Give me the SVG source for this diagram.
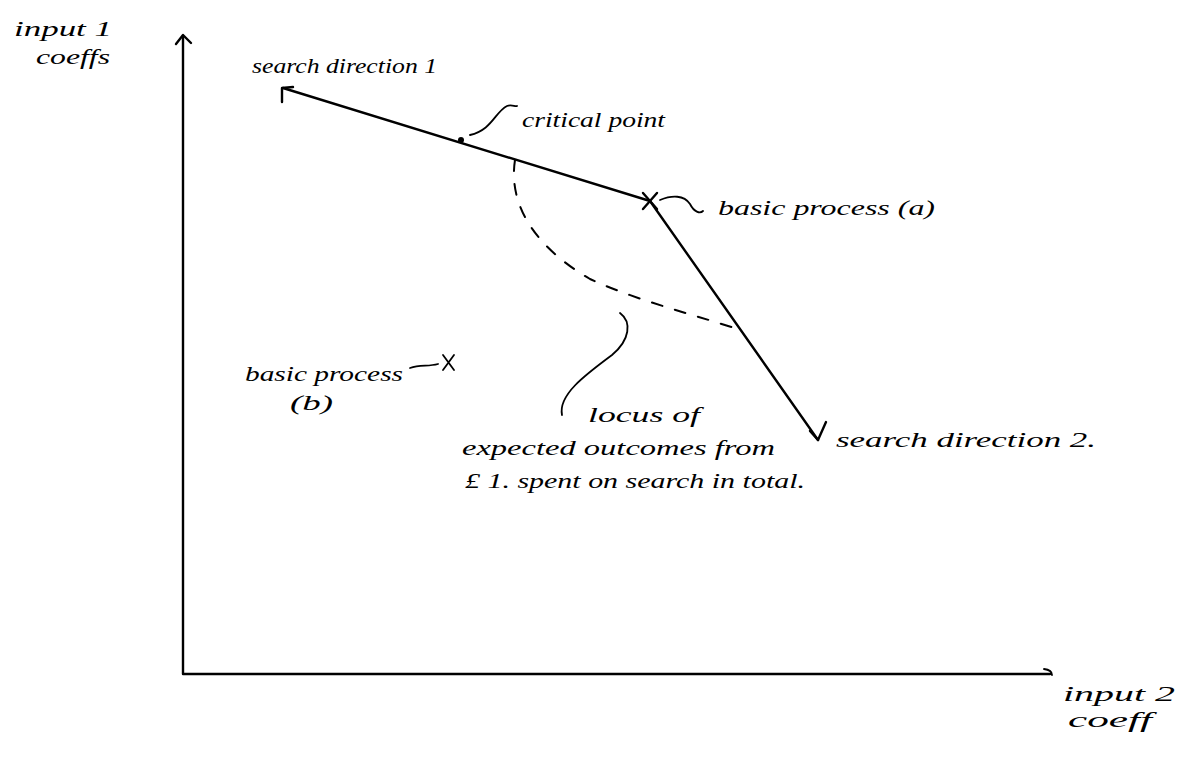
<svg xmlns="http://www.w3.org/2000/svg" width="1180" height="758" viewBox="0 0 1180 758">
  <style>
    .ink { fill: none; stroke: #000; stroke-width: 2.4; stroke-linecap: round; stroke-linejoin: round; }
    .thin { fill: none; stroke: #000; stroke-width: 1.8; stroke-linecap: round; stroke-linejoin: round; }
    .dash { fill: none; stroke: #000; stroke-width: 2; stroke-dasharray: 11 13; stroke-linecap: round; }
    .hand { font-family: "Liberation Serif", "DejaVu Serif", serif; font-style: italic; font-size: 22px; fill: #000; }
  </style>
  <rect width="1180" height="758" fill="#fff"/>

  <!-- axes -->
  <g id="axes">
    <path class="ink" d="M183 36 L183 674 L1050 674"/>
    <path class="ink" d="M176 44 L183 35 L191 43"/>
    <path class="thin" d="M1044 669 Q1052 670 1052 675"/>
  </g>

  <!-- axis titles -->
  <g id="y-title">
    <text class="hand" x="14" y="36" textLength="98" lengthAdjust="spacingAndGlyphs">input 1</text>
    <text class="hand" x="36" y="64" textLength="74" lengthAdjust="spacingAndGlyphs">coeffs</text>
  </g>
  <g id="x-title">
    <text class="hand" x="1063" y="701" textLength="112" lengthAdjust="spacingAndGlyphs">input 2</text>
    <text class="hand" x="1068" y="727" textLength="84" lengthAdjust="spacingAndGlyphs">coeff</text>
  </g>

  <!-- connectors: search directions, locus and leaders -->
  <g id="connectors">
    <path class="ink" d="M283 88 L650 201"/>
    <path class="ink" d="M282 88 L282 102 M282 88 L293 87"/>
    <path class="ink" d="M650 201 L818 440"/>
    <path class="ink" d="M810 431 L818 440 L826 422"/>
    <path class="dash" d="M515 160 C508 205 535 247 590 279 C640 302 700 316 740 330"/>
    <path class="thin" d="M470 135 C492 130 495 112 507 106 C512 104 515 107 517 106"/>
    <path class="thin" d="M660 200 C672 195 684 195 690 204 C694 212 700 214 703 211"/>
    <path class="thin" d="M620 313 C632 322 630 340 612 355 C585 375 558 395 562 415"/>
    <path class="thin" d="M410 368 C420 364 428 367 438 364"/>
  </g>

  <!-- search direction 1 -->
  <g id="search-direction-1">
    <text class="hand" x="252" y="73" textLength="185" lengthAdjust="spacingAndGlyphs">search direction 1</text>
  </g>

  <!-- critical point -->
  <g id="critical-point">
    <circle cx="461" cy="140" r="3" fill="#000"/>
    <text class="hand" x="522" y="127" textLength="143" lengthAdjust="spacingAndGlyphs">critical point</text>
  </g>

  <!-- basic process (a) -->
  <g id="basic-process-a">
    <path class="ink" d="M643 193 L657 209 M657 193 L643 209"/>
    <text class="hand" x="718" y="215" textLength="217" lengthAdjust="spacingAndGlyphs">basic process (a)</text>
  </g>

  <!-- basic process (b) -->
  <g id="basic-process-b">
    <path class="thin" d="M443 355 L454 370 M454 355 L443 370"/>
    <text class="hand" x="245" y="381" textLength="158" lengthAdjust="spacingAndGlyphs">basic process</text>
    <text class="hand" x="290" y="410" textLength="43" lengthAdjust="spacingAndGlyphs">(b)</text>
  </g>

  <!-- search direction 2 -->
  <g id="search-direction-2">
    <text class="hand" x="836" y="447" textLength="260" lengthAdjust="spacingAndGlyphs">search direction 2.</text>
  </g>

  <!-- locus label -->
  <g id="locus-label">
    <text class="hand" x="588" y="422" textLength="112" lengthAdjust="spacingAndGlyphs">locus of</text>
    <text class="hand" x="462" y="455" textLength="313" lengthAdjust="spacingAndGlyphs">expected outcomes from</text>
    <text class="hand" x="465" y="488" textLength="340" lengthAdjust="spacingAndGlyphs">£ 1. spent on search in total.</text>
  </g>
</svg>
